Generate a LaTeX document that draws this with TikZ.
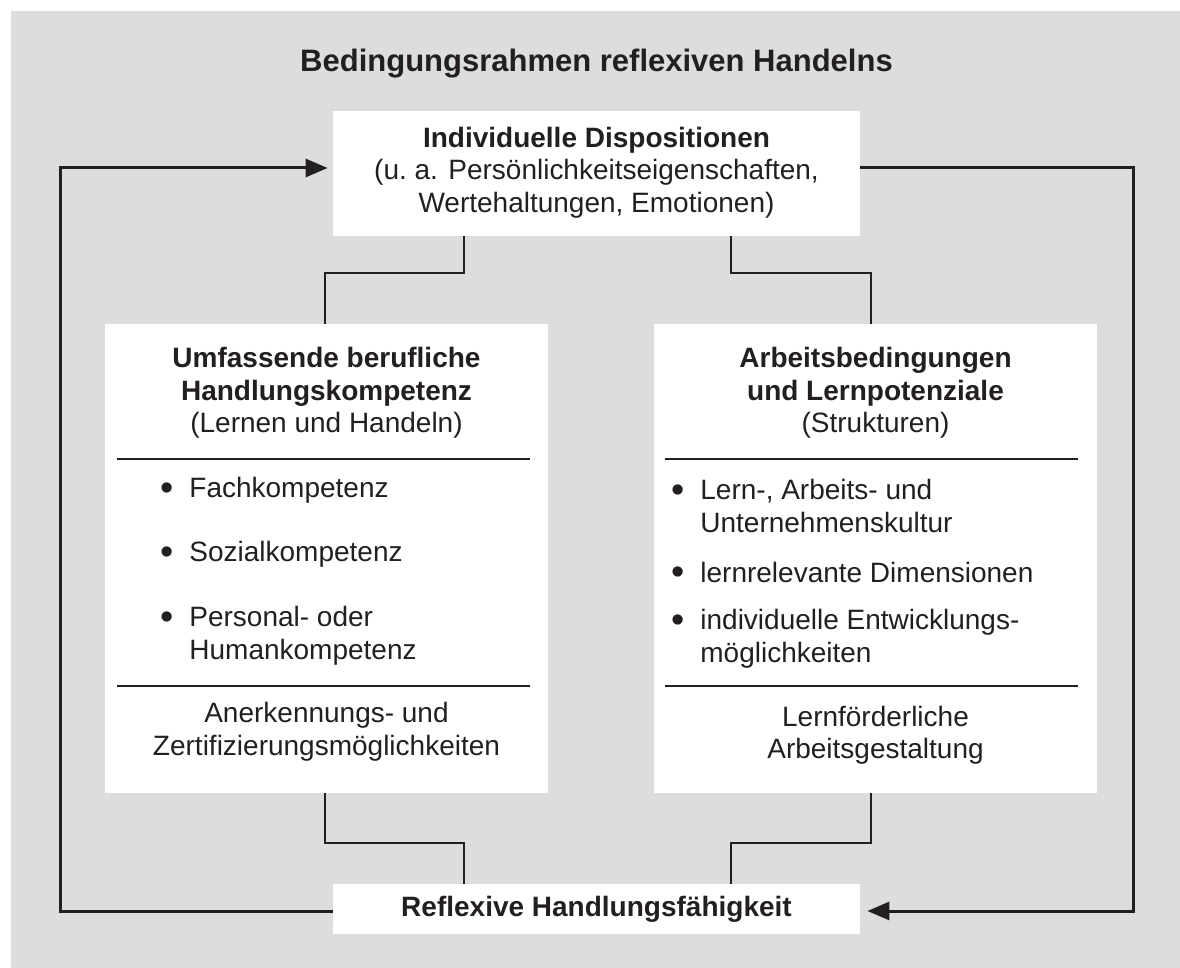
\documentclass[tikz,border=0pt]{standalone}
\usepackage{fontspec}
\setmainfont{Liberation Sans}
\usepackage{graphicx}
\usepackage{xcolor}
\usepackage{tikz}
\usetikzlibrary{arrows.meta}

\definecolor{bggray}{HTML}{DCDDDF}
\definecolor{ink}{HTML}{231F20}

\newcommand{\lines}[1]{\begin{tabular}[t]{@{}c@{}}#1\end{tabular}}
\newcommand{\bitem}[1]{\makebox[14.5pt][l]{\raisebox{-1.4pt}{\scalebox{1.35}{\textbullet}}}\begin{tabular}[t]{@{}l@{}}#1\end{tabular}}

\tikzset{
  txt/.style={font=\fontsize{14}{16.25}\selectfont, text=ink, inner sep=0pt},
  headtxt/.style={txt, anchor=base},
  itemtxt/.style={txt, anchor=base west},
  panel/.style={fill=white, inner sep=0pt, minimum width=221.5pt, minimum height=234.5pt},
  wide/.style={txt, fill=white, minimum width=263.5pt},
  rulestyle/.style={ink, line width=0.8pt},
  link/.style={ink, line width=1pt},
  loopline/.style={ink, line width=1.5pt, -{Triangle[length=11pt,width=9pt]}}
}

\begin{document}
\begin{tikzpicture}[x=0.5pt,y=-0.5pt]
\useasboundingbox (0,0) rectangle (1180,968);

% Background
\fill[bggray] (11,11) rectangle (1190,978);
\node[txt, anchor=base, font=\fontsize{15.5}{18}\selectfont\bfseries] (title) at (596.5,72) {Bedingungsrahmen reflexiven Handelns};

% Top box
\node[wide, minimum height=62.5pt] (disp) at (596.5,173.5)
  {\lines{\textbf{Individuelle Dispositionen}\\(u.~a. Persönlichkeitseigenschaften,\\Wertehaltungen, Emotionen)}};

% Left box
\node[panel] (lbox) at (326.5,558.5) {};
\node[headtxt] (lhead) at (326.5,368)
  {\lines{\textbf{Umfassende berufliche}\\\textbf{Handlungskompetenz}\\(Lernen und Handeln)}};
\draw[rulestyle] (117,459) -- (530,459);
\node[itemtxt] (lfach) at (160,498) {\bitem{Fachkompetenz}};
\node[itemtxt] (lsoz) at (160,562) {\bitem{Sozialkompetenz}};
\node[itemtxt] (lpers) at (160,627) {\bitem{Personal- oder\\Humankompetenz}};
\draw[rulestyle] (117,686) -- (530,686);
\node[headtxt] (lfoot) at (326.5,723)
  {\lines{Anerkennungs- und\\Zertifizierungsmöglichkeiten}};

% Right box
\node[panel] (rbox) at (875.5,558.5) {};
\node[headtxt] (rhead) at (875.5,368)
  {\lines{\textbf{Arbeitsbedingungen}\\\textbf{und Lernpotenziale}\\(Strukturen)}};
\draw[rulestyle] (665,459) -- (1078,459);
\node[itemtxt] (rkultur) at (671,500) {\bitem{Lern-, Arbeits- und\\Unternehmenskultur}};
\node[itemtxt] (rdim) at (671,582) {\bitem{lernrelevante Dimensionen}};
\node[itemtxt] (rentw) at (671,630) {\bitem{individuelle Entwicklungs-\\möglichkeiten}};
\draw[rulestyle] (665,686) -- (1078,686);
\node[headtxt] (rfoot) at (875.5,726)
  {\lines{Lernförderliche\\Arbeitsgestaltung}};

% Bottom box
\node[wide, minimum height=25pt, font=\fontsize{14}{16.25}\selectfont\bfseries] (reflex) at (596.5,909) {Reflexive Handlungsfähigkeit};

% Links
\draw[link] (464,0 |- disp.south) |- (325,273) -- (325,0 |- lbox.north);
\draw[link] (731,0 |- disp.south) |- (871,273) -- (871,0 |- rbox.north);
\draw[link] (325,0 |- lbox.south) |- (464,843) -- (464,0 |- reflex.north);
\draw[link] (871,0 |- rbox.south) |- (731,843) -- (731,0 |- reflex.north);

% Feedback loop
\draw[loopline] (reflex.west |- 0,911) -- (60,911) -- (60,168) -- ([xshift=-2.5pt]disp.west |- 0,168);
\draw[loopline] (disp.east |- 0,168) -- (1133,168) -- (1133,911) -- ([xshift=3.5pt]reflex.east |- 0,911);
\end{tikzpicture}
\end{document}
